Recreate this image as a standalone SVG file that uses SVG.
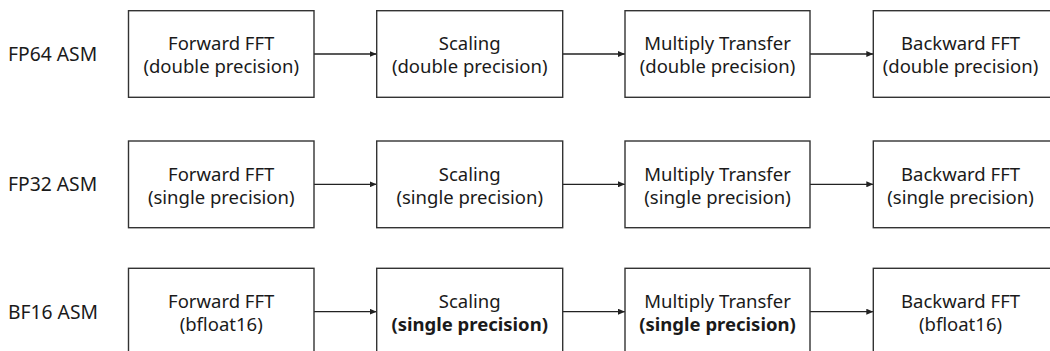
<svg xmlns="http://www.w3.org/2000/svg" width="1050" height="351" viewBox="0 0 1050 351">
<defs>
<marker id="ah" markerWidth="8" markerHeight="6" refX="7" refY="3" orient="auto" markerUnits="userSpaceOnUse">
<path d="M0,0 L7,3 L0,6 Z" fill="#222"/>
</marker>
<style>
.box{fill:#fff;stroke:#333;stroke-width:1.4}
.t{font-family:"Noto Sans","Open Sans",sans-serif;font-size:18.5px;fill:#1a1a1a;text-anchor:middle}
.lbl{font-family:"Noto Sans","Open Sans",sans-serif;font-size:19.3px;fill:#1a1a1a}
.b{font-weight:bold}
.c{stroke:#222;stroke-width:1.3;fill:none;marker-end:url(#ah)}
</style>
</defs>
<rect width="1050" height="351" fill="#fff"/>
<g id="labels">
<text class="lbl" x="8" y="61">FP64 ASM</text>
<text class="lbl" x="8" y="191">FP32 ASM</text>
<text class="lbl" x="8" y="318.5">BF16 ASM</text>
</g>
<g id="connectors">
<line class="c" x1="314" y1="54" x2="376.7" y2="54"/>
<line class="c" x1="562.7" y1="54" x2="625" y2="54"/>
<line class="c" x1="810" y1="54" x2="873.3" y2="54"/>
<line class="c" x1="314" y1="184.3" x2="376.7" y2="184.3"/>
<line class="c" x1="562.7" y1="184.3" x2="625" y2="184.3"/>
<line class="c" x1="810" y1="184.3" x2="873.3" y2="184.3"/>
<line class="c" x1="314" y1="311.7" x2="376.7" y2="311.7"/>
<line class="c" x1="562.7" y1="311.7" x2="625" y2="311.7"/>
<line class="c" x1="810" y1="311.7" x2="873.3" y2="311.7"/>
</g>
<g id="fp64-fwd"><rect class="box" x="128.5" y="10.7" width="185.5" height="86.6"/><text class="t" x="221.2" y="50">Forward FFT</text><text class="t" x="221.2" y="73">(double precision)</text></g>
<g id="fp64-scale"><rect class="box" x="376.7" y="10.7" width="186" height="86.6"/><text class="t" x="469.7" y="50">Scaling</text><text class="t" x="469.7" y="73">(double precision)</text></g>
<g id="fp64-mul"><rect class="box" x="625" y="10.7" width="185" height="86.6"/><text class="t" x="717.5" y="50">Multiply Transfer</text><text class="t" x="717.5" y="73">(double precision)</text></g>
<g id="fp64-bwd"><rect class="box" x="873.3" y="10.7" width="186" height="86.6"/><text class="t" x="960.5" y="50">Backward FFT</text><text class="t" x="960.5" y="73">(double precision)</text></g>

<g id="fp32-fwd"><rect class="box" x="128.5" y="141" width="185.5" height="86.7"/><text class="t" x="221.2" y="180.5">Forward FFT</text><text class="t" x="221.2" y="203.5">(single precision)</text></g>
<g id="fp32-scale"><rect class="box" x="376.7" y="141" width="186" height="86.7"/><text class="t" x="469.7" y="180.5">Scaling</text><text class="t" x="469.7" y="203.5">(single precision)</text></g>
<g id="fp32-mul"><rect class="box" x="625" y="141" width="185" height="86.7"/><text class="t" x="717.5" y="180.5">Multiply Transfer</text><text class="t" x="717.5" y="203.5">(single precision)</text></g>
<g id="fp32-bwd"><rect class="box" x="873.3" y="141" width="186" height="86.7"/><text class="t" x="960.5" y="180.5">Backward FFT</text><text class="t" x="960.5" y="203.5">(single precision)</text></g>

<g id="bf16-fwd"><rect class="box" x="128.5" y="268.3" width="185.5" height="86.7"/><text class="t" x="221.2" y="307.5">Forward FFT</text><text class="t" x="221.2" y="330.5">(bfloat16)</text></g>
<g id="bf16-scale"><rect class="box" x="376.7" y="268.3" width="186" height="86.7"/><text class="t" x="469.7" y="307.5">Scaling</text><text class="t b" x="469.7" y="330.5">(single precision)</text></g>
<g id="bf16-mul"><rect class="box" x="625" y="268.3" width="185" height="86.7"/><text class="t" x="717.5" y="307.5">Multiply Transfer</text><text class="t b" x="717.5" y="330.5">(single precision)</text></g>
<g id="bf16-bwd"><rect class="box" x="873.3" y="268.3" width="186" height="86.7"/><text class="t" x="960.5" y="307.5">Backward FFT</text><text class="t" x="960.5" y="330.5">(bfloat16)</text></g>
</svg>
